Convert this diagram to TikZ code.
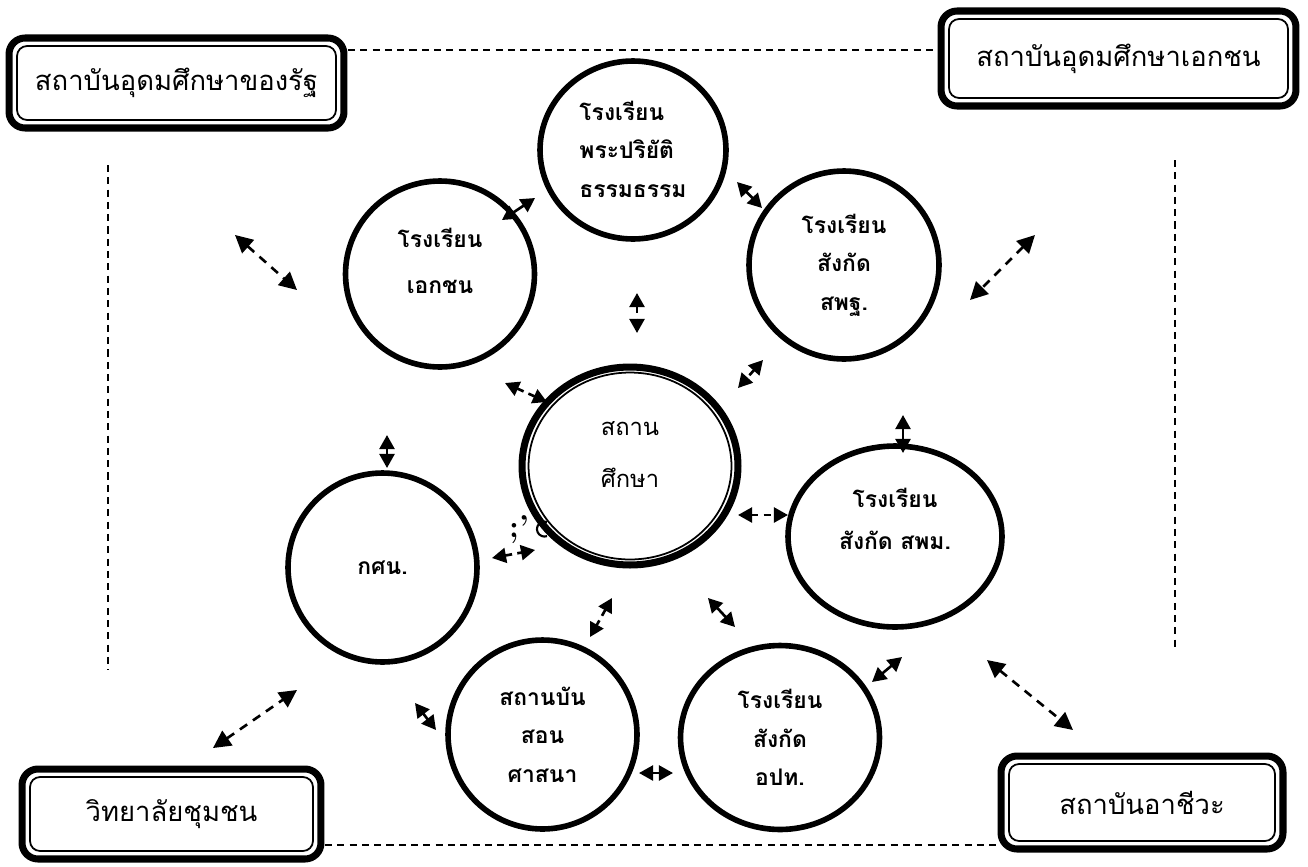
\documentclass[tikz,border=0pt]{standalone}
\usepackage{fontspec}
\newfontfamily\thaifont[Script=Thai]{Loma}
\usetikzlibrary{arrows.meta,shapes.geometric}
\tikzset{
  instbox/.style={draw,line width=4pt,outer sep=0pt,rounded corners=0.32cm,font=\thaifont\fontsize{15.6}{20}\selectfont},
  boxinner/.style={line width=1pt,rounded corners=0.2cm},
  unit/.style={draw,ellipse,line width=3.2pt,align=center,inner sep=0pt,font=\thaifont\bfseries\fontsize{13}{22}\selectfont},
  link/.style={line width=1.5pt,{Triangle[length=8pt,width=8.5pt]}-{Triangle[length=8pt,width=8.5pt]}},
  dlink/.style={link,dash pattern=on 4pt off 3pt},
  farlink/.style={line width=1.5pt,dash pattern=on 5pt off 4pt,{Triangle[length=10pt,width=10pt]}-{Triangle[length=10pt,width=10pt]}},
  guide/.style={line width=0.8pt,dash pattern=on 4pt off 3pt},
}
\begin{document}
\begin{tikzpicture}[x=0.02cm,y=-0.02cm]
\fill[white] (0,0) rectangle (1308,866);
\useasboundingbox (0,0) rectangle (1308,866);

% outer institutions
\node[instbox,minimum width=6.7cm,minimum height=1.8cm] (gov) at (176.5,83) {สถาบันอุดมศึกษาของรัฐ};
\node[instbox,minimum width=7.1cm,minimum height=1.9cm] (priv) at (1118.5,58.5) {สถาบันอุดมศึกษาเอกชน};
\node[instbox,minimum width=5.98cm,minimum height=1.8cm] (comm) at (171.5,814) {วิทยาลัยชุมชน};
\node[instbox,minimum width=5.64cm,minimum height=1.86cm] (voc) at (1142,802.5) {สถาบันอาชีวะ};
\foreach \b in {gov,priv,comm,voc}
  \draw[boxinner] ([shift={(8,8)}]\b.north west) rectangle ([shift={(-8,-8)}]\b.south east);

%---------------------------------
\coordinate (t1) at (348,50);  \coordinate (t2) at (937,50);
\coordinate (b1) at (325,845); \coordinate (b2) at (997,845);
\coordinate (l1) at (108,165); \coordinate (l2) at (108,670);
\coordinate (r1) at (1175,160); \coordinate (r2) at (1175,647);
\draw[guide] (t1) -- (t2);
\draw[guide] (b1) -- (b2);
\draw[guide] (l1) -- (l2);
\draw[guide] (r1) -- (r2);

% schools
\node[unit,align=left,minimum width=3.72cm,minimum height=3.56cm] (pr) at (633,150) {\mbox{}\\[-12pt]โรงเรียน\\พระปริยัติ\\ธรรมธรรม};
\node[unit,text depth=15pt,minimum width=3.78cm,minimum height=3.72cm] (pe) at (440,274) {โรงเรียน\\[4pt]เอกชน};
\node[unit,minimum width=3.8cm,minimum height=3.76cm] (sp) at (844,265) {โรงเรียน\\สังกัด\\สพฐ.};
\node[unit,text depth=20pt,minimum width=4.28cm,minimum height=3.62cm] (sm) at (895,536.5) {โรงเรียน\\[2pt]สังกัด สพม.};
\node[unit,minimum width=3.78cm,minimum height=3.78cm] (kn) at (382.5,567.5) {กศน.};
\node[unit,minimum width=3.78cm,minimum height=3.78cm] (rl) at (542.5,734.5) {สถานบัน\\สอน\\ศาสนา};
\node[unit,minimum width=3.98cm,minimum height=3.68cm] (lg) at (780,737.5) {โรงเรียน\\สังกัด\\อปท.};
\node[unit,line width=4pt,text depth=13pt,minimum width=4.32cm,minimum height=3.96cm,font=\thaifont\fontsize{13.5}{30}\selectfont] (ctr) at (630,466) {สถาน\\ศึกษา};
\draw[line width=1pt] (ctr.center) ellipse [x radius=2.03cm, y radius=1.87cm];
\node[font=\bfseries\fontsize{18}{18}\selectfont] (stray) at (519,530) {;’};
\draw[line width=1.2pt] (547,522) arc[start angle=70, end angle=290, radius=0.15cm];

%---------------------------------
\foreach \n/\x/\y in {a1/502/220, a2/535/198, c1/737/182, c2/762/208,
  d1/637/293, d2/637/333, e1/505/383, e2/547/402, f1/763/360, f2/738/388,
  g1/738/515, g2/788/515, h1/903/415, h2/903/453, k1/387/435, k2/387/468,
  m1/492/558, m2/535/550, n1/612/598, n2/590/637, p1/708/598, p2/735/627,
  q1/902/657, q2/872/682, s1/639/773, s2/673/773, u1/415/703, u2/436/730,
  v1/235/235, v2/297/290, w1/1035/235, w2/970/300, y1/213/748, y2/297/690,
  z1/987/660, z2/1073/730}
  \coordinate (\n) at (\x,\y);

\draw[link] (a1) -- (a2);
\draw[link] (c1) -- (c2);
\draw[dlink] (d1) -- (d2);
\draw[dlink] (e1) -- (e2);
\draw[dlink] (f1) -- (f2);
\draw[dlink] (g1) -- (g2);
\draw[link] (h1) -- (h2);
\draw[link] (k1) -- (k2);
\draw[dlink] (m1) -- (m2);
\draw[dlink] (n1) -- (n2);
\draw[link] (p1) -- (p2);
\draw[link] (q1) -- (q2);
\draw[link] (s1) -- (s2);
\draw[link] (u1) -- (u2);

\draw[farlink] (v1) -- (v2);
\draw[farlink] (w1) -- (w2);
\draw[farlink] (y1) -- (y2);
\draw[farlink] (z1) -- (z2);

\end{tikzpicture}
\end{document}
